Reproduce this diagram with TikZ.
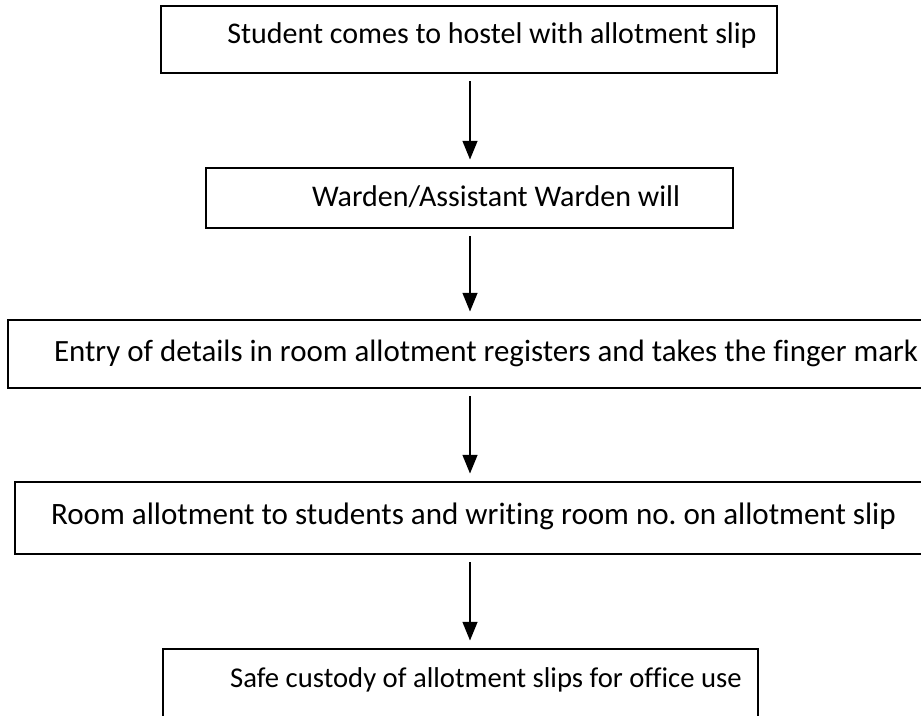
\documentclass[tikz,border=0pt]{standalone}
\usepackage{fontspec}
\setmainfont{Carlito}[Ligatures={NoCommon}]
\usetikzlibrary{arrows.meta}
\frenchspacing
\begin{document}
\begin{tikzpicture}[x=0.75pt,y=-0.75pt,
  stepbox/.style={draw=black,line width=1.6pt,inner sep=0pt},
  steptext/.style={inner sep=0pt,font=\fontsize{22.5}{26}\selectfont},
  flow/.style={line width=1.6pt,-{Triangle[width=11pt,length=14pt]},
    shorten <=5.5pt,shorten >=5.5pt}]
  \useasboundingbox (0,0) rectangle (921,716);
  % vertical axis shared by all connectors
  \coordinate (axis) at (470,0);
  % boxes
  \node[stepbox,minimum width=616*0.75pt,minimum height=67*0.75pt] (b1) at (469,39.5) {};
  \node[stepbox,minimum width=527*0.75pt,minimum height=60*0.75pt] (b2) at (469.5,198) {};
  \node[stepbox,minimum width=924*0.75pt,minimum height=68*0.75pt] (b3) at (470,354) {};
  \node[stepbox,minimum width=910*0.75pt,minimum height=72*0.75pt] (b4) at (470,518) {};
  \node[stepbox,minimum width=595*0.75pt,minimum height=90*0.75pt] (b5) at (460.5,694) {};
  % step texts
  \node[steptext] (t1) at (492,36) {Student comes to hostel with allotment slip};
  \node[steptext] (t2) at (496,197) {Warden/Assistant Warden will};
  \node[steptext,font=\fontsize{23.2}{26}\selectfont] (t3) at (486,353) {Entry of details in room allotment registers and takes the finger mark};
  \node[steptext,font=\fontsize{23.3}{26}\selectfont] (t4) at (473.5,516) {Room allotment to students and writing room no. on allotment slip};
  \node[steptext,font=\fontsize{21.5}{25}\selectfont] (t5) at (486,680) {Safe custody of allotment slips for office use};
  % connectors
  \draw[flow] (b1.south -| axis) -- (b2.north -| axis);
  \draw[flow] (b2.south -| axis) -- (b3.north -| axis);
  \draw[flow] (b3.south -| axis) -- (b4.north -| axis);
  \draw[flow] (b4.south -| axis) -- (b5.north -| axis);
\end{tikzpicture}
\end{document}
